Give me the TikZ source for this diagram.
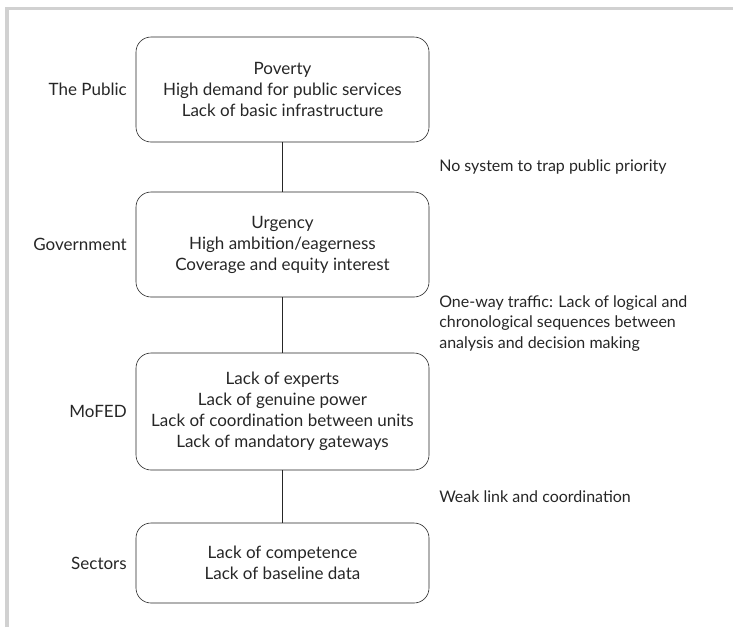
\documentclass[tikz,border=0pt]{standalone}
\usepackage{fontspec}
\setmainfont{Lato}
\tikzset{
  layerbox/.style={draw,rounded corners=15pt,minimum width=293pt,align=center,font=\fontsize{17}{21}\selectfont},
  sidelabel/.style={anchor=east,inner sep=0pt,font=\fontsize{17}{21}\selectfont},
  linklabel/.style={anchor=west,inner sep=0pt,align=left,font=\fontsize{16}{20.5}\selectfont}
}
\begin{document}
\begin{tikzpicture}[x=1pt,y=-1pt,semithick,black!85]
  \useasboundingbox (0,0) rectangle (733,627);
  \draw[line width=3.5pt,black!18](7,627)--(7,8.5)--(733,8.5);
  % the four layers
  \node[layerbox,minimum height=105pt](public) at (282.5,89.5){Poverty\\High demand for public services\\Lack of basic infrastructure};
  \node[layerbox,minimum height=105pt](gov) at (282.5,244.5){Urgency\\High ambition/eagerness\\Coverage and equity interest};
  \node[layerbox,minimum height=117pt](mofed) at (282.5,411.5){Lack of experts\\Lack of genuine power\\Lack of coordination between units\\Lack of mandatory gateways};
  \node[layerbox,minimum height=80pt](sectors) at (282.5,563){Lack of competence\\Lack of baseline data};
  \draw(public)--(gov) (gov)--(mofed) (mofed)--(sectors);
  \node[sidelabel](lpublic) at (127,89.5){The Public};
  \node[sidelabel](lgov) at (127,244.5){Government};
  \node[sidelabel](lmofed) at (127,411.5){MoFED};
  \node[sidelabel](lsectors) at (127,563){Sectors};
  \node[linklabel](k1) at (439,167){No system to trap public priority};
  \node[linklabel](k2) at (439,323.5){One-way traffic: Lack of logical and\\chronological sequences between\\analysis and decision making};
  \node[linklabel](k3) at (439,497){Weak link and coordination};
\end{tikzpicture}
\end{document}
